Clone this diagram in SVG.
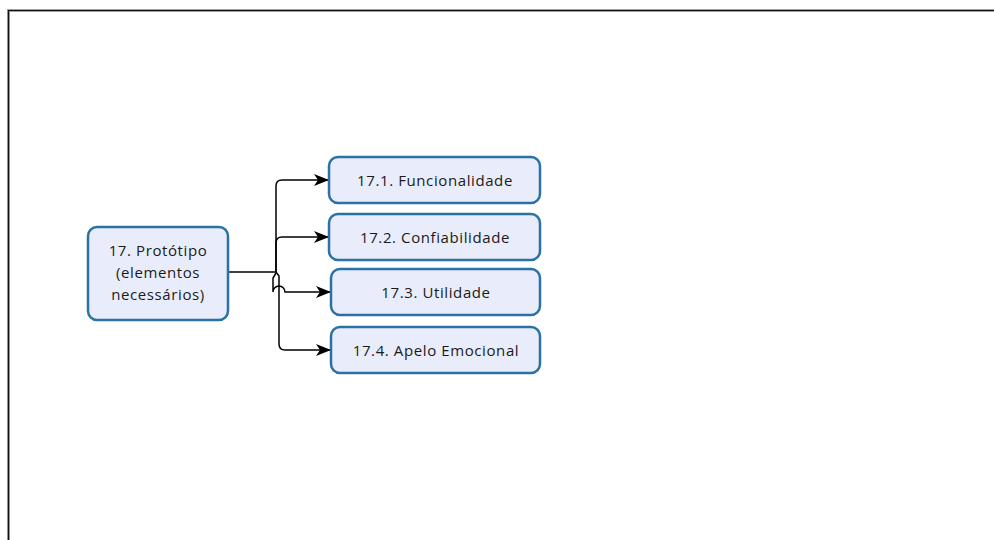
<svg xmlns="http://www.w3.org/2000/svg" width="994" height="540" viewBox="0 0 994 540">
  <style>
    .box { fill: #e9edfb; stroke: #2a72a4; stroke-width: 2.5; }
    .lbl { font-family: "Open Sans", "DejaVu Sans", sans-serif; font-size: 15px; letter-spacing: 0.6px; fill: #1a1a1a; text-anchor: middle; dominant-baseline: central; }
    .wire { fill: none; stroke: #000; stroke-width: 1.5; }
  </style>
  <defs>
    <marker id="arrow" viewBox="0 0 15 12" refX="15" refY="6" markerWidth="15" markerHeight="12" markerUnits="userSpaceOnUse" orient="auto">
      <path d="M0,0 L15,6 L0,12 L4,6 Z" fill="#000"/>
    </marker>
  </defs>

  <rect width="994" height="540" fill="#fff"/>
  <!-- page frame -->
  <path d="M8.5,541 V10.5 H995" fill="none" stroke="#a0a0a0" stroke-width="3"/>
  <path d="M8.5,541 V10.5 H995" fill="none" stroke="#111" stroke-width="1.2"/>

  <g id="connectors">
    <path class="wire" d="M228,272 H276 V186 Q276,180 282,180 H329" marker-end="url(#arrow)"/>
    <path class="wire" d="M276,272 V243 Q276,237 282,237 H329" marker-end="url(#arrow)"/>
    <path class="wire" d="M276,272 L279,276 V344 Q279,350 285,350 H331" marker-end="url(#arrow)"/>
    <path class="wire" d="M276,273 L273,278 V292 A6,6 0 0 1 285,292 H331" marker-end="url(#arrow)"/>
  </g>

  <g id="n17">
    <rect class="box" x="88" y="227" width="140" height="93" rx="9"/>
    <text class="lbl" x="158" y="250">17. Protótipo</text>
    <text class="lbl" x="158" y="272">(elementos</text>
    <text class="lbl" x="158" y="294">necessários)</text>
  </g>
  <g id="n17-1">
    <rect class="box" x="329" y="157" width="211" height="46" rx="9"/>
    <text class="lbl" x="435" y="180">17.1. Funcionalidade</text>
  </g>
  <g id="n17-2">
    <rect class="box" x="329" y="214" width="211" height="46" rx="9"/>
    <text class="lbl" x="435" y="237">17.2. Confiabilidade</text>
  </g>
  <g id="n17-3">
    <rect class="box" x="331" y="269" width="209" height="46" rx="9"/>
    <text class="lbl" x="436" y="292">17.3. Utilidade</text>
  </g>
  <g id="n17-4">
    <rect class="box" x="331" y="327" width="209" height="46" rx="9"/>
    <text class="lbl" x="436" y="350">17.4. Apelo Emocional</text>
  </g>
</svg>
